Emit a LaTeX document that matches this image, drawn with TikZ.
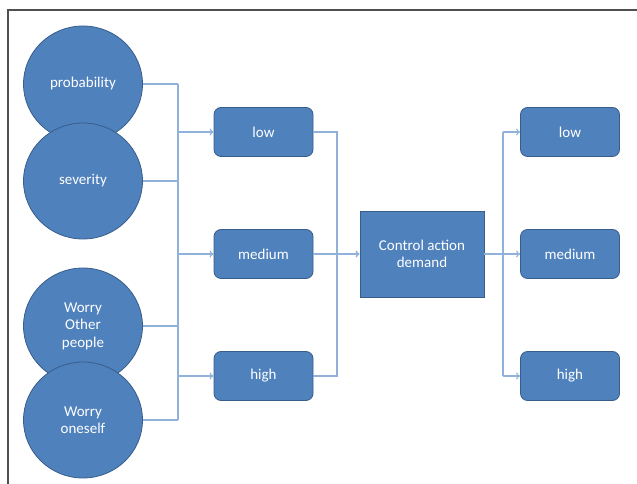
\documentclass[tikz,border=0pt]{standalone}
\usepackage{fontspec}
\setmainfont{Carlito}
\usetikzlibrary{arrows.meta,shapes.geometric}
\definecolor{boxfill}{HTML}{4F81BD}
\definecolor{boxedge}{HTML}{385D8A}
\definecolor{conncol}{HTML}{8FB1DA}
\definecolor{framecol}{HTML}{505050}
\begin{document}
\begin{tikzpicture}[x=1pt,y=1pt,
  txt/.style={font=\fontsize{15}{17.5}\selectfont},
  circ/.style={ellipse,draw=boxedge,line width=0.8pt,fill=boxfill,text=white,
    minimum width=119pt,minimum height=116pt,inner sep=0pt,align=center,txt},
  rbox/.style={rectangle,rounded corners=7pt,draw=boxedge,line width=0.8pt,fill=boxfill,
    text=white,minimum width=99pt,minimum height=49pt,inner sep=0pt,txt},
  cbox/.style={rectangle,draw=boxedge,line width=0.8pt,fill=boxfill,text=white,
    minimum width=124pt,minimum height=86pt,inner sep=0pt,align=center,txt},
  conn/.style={draw=conncol,line width=1.1pt},
  arr/.style={conn,-{To[length=4pt,width=7pt]}},
  frameline/.style={draw=framecol,line width=1.3pt}]
\useasboundingbox (0,0) rectangle (637,484);
\draw[frameline] (8,0) -- (8,474) -- (637,474);
% circles
\node[circ] (prob) at (83,400) {probability};
\node[circ] (sev) at (83,303) {severity};
\node[circ] (woth) at (83,158) {Worry\\Other\\people};
\node[circ] (wone) at (83,64) {Worry\\oneself};
% left boxes
\node[rbox] (lowL) at (263.5,352) {low};
\node[rbox] (medL) at (263.5,230) {medium};
\node[rbox] (highL) at (263.5,108) {high};
% control
\node[cbox] (ctrl) at (422,230) {Control action\\demand};
% right boxes
\node[rbox] (lowR) at (570,352) {low};
\node[rbox] (medR) at (570,230) {medium};
\node[rbox] (highR) at (570,108) {high};
% junction coordinates
\coordinate (jx) at (178,0);
\coordinate (kx) at (337,0);
\coordinate (mx) at (503,0);
% left bundle
\draw[conn] (prob) -- (prob -| jx);
\draw[conn] (sev) -- (sev -| jx);
\draw[conn] (woth) -- (woth -| jx);
\draw[conn] (wone) -- (wone -| jx);
\draw[conn] (prob -| jx) -- (wone -| jx);
\draw[arr] (lowL -| jx) -- (lowL);
\draw[arr] (medL -| jx) -- (medL);
\draw[arr] (highL -| jx) -- (highL);
% middle bundle
\draw[conn] (lowL) -- (lowL -| kx) -- (highL -| kx) -- (highL);
\draw[arr,line width=1.4pt] (medL) -- (ctrl);
% right bundle
\draw[conn] (ctrl) -- (ctrl -| mx);
\draw[conn] (lowR -| mx) -- (highR -| mx);
\draw[arr] (lowR -| mx) -- (lowR);
\draw[arr] (medR -| mx) -- (medR);
\draw[arr] (highR -| mx) -- (highR);
\end{tikzpicture}
\end{document}
